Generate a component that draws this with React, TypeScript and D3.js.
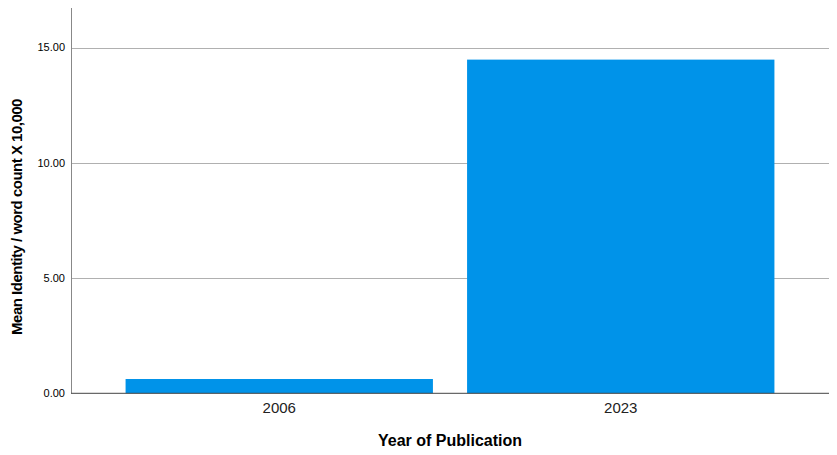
import React from "react";
import * as d3 from "d3";

const categories: string[] = ["2006", "2023"];
const values: number[] = [0.62, 14.48];
const yTicks: number[] = [0, 5, 10, 15];

const W = 837;
const H = 455;
const left = 71;
const right = 829;
const top = 8;
const bottom = 393.3;

export default function App() {
  const y = d3.scaleLinear().domain([0, 16.72]).range([bottom, top]);
  const x = d3
    .scaleBand<string>()
    .domain(categories)
    .range([108.5, 791.5])
    .paddingInner(0.1)
    .paddingOuter(0.05);
  const font = "'Liberation Sans', Arial, sans-serif";
  return (
    <svg
      width={W}
      height={H}
      style={{ position: "absolute", left: 0, top: 0, background: "#fff" }}
      fontFamily={font}
    >
      {yTicks
        .filter((t) => t > 0)
        .map((t) => (
          <line
            key={"g" + t}
            x1={left}
            x2={right}
            y1={Math.round(y(t)) + 0.5}
            y2={Math.round(y(t)) + 0.5}
            stroke="#b0b0b0"
            strokeWidth={1}
          />
        ))}
      {categories.map((c, i) => (
        <rect
          key={c}
          x={x(c)}
          y={y(values[i])}
          width={x.bandwidth()}
          height={bottom - y(values[i])}
          fill="#0093E9"
        />
      ))}
      <line x1={left + 0.5} x2={left + 0.5} y1={top} y2={bottom} stroke="#888" strokeWidth={1} />
      <line x1={left} x2={right} y1={bottom} y2={bottom} stroke="#444" strokeWidth={1} />
      {yTicks.map((t) => (
        <text
          key={"t" + t}
          x={65}
          y={y(t)}
          dy="0.35em"
          textAnchor="end"
          fontSize={11}
          fill="#000"
        >
          {t.toFixed(2)}
        </text>
      ))}
      {categories.map((c) => (
        <text
          key={"x" + c}
          x={(x(c) as number) + x.bandwidth() / 2}
          y={408}
          dy="0.35em"
          textAnchor="middle"
          fontSize={15}
          fill="#222"
        >
          {c}
        </text>
      ))}
      <text
        x={(left + right) / 2}
        y={440}
        dy="0.35em"
        textAnchor="middle"
        fontSize={16}
        fontWeight="bold"
        fill="#000"
      >
        Year of Publication
      </text>
      <text
        transform={`translate(17,${217}) rotate(-90)`}
        dy="0.35em"
        textAnchor="middle"
        fontSize={15}
        fontWeight="bold"
        fill="#000"
        letterSpacing={-0.5}
      >
        Mean Identity / word count X 10,000
      </text>
    </svg>
  );
}
